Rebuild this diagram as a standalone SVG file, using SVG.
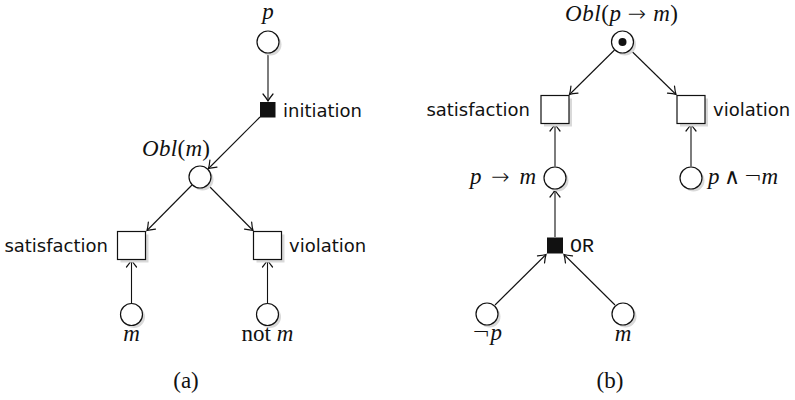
<svg xmlns="http://www.w3.org/2000/svg" width="795" height="400" viewBox="0 0 795 400">
<defs>
<marker id="arr" markerUnits="userSpaceOnUse" markerWidth="16" markerHeight="16" viewBox="-9 -8 11 16" refX="0" refY="0" orient="auto">
<path d="M-7,-5 Q-2.5,-1.3 0,0 Q-2.5,1.3 -7,5" fill="none" stroke="#111" stroke-width="1.2" stroke-linecap="round"/>
</marker>
</defs>
<style>
.place{fill:#fff;stroke:#111;stroke-width:1.2}
.trans{fill:#fff;stroke:#111;stroke-width:1.2}
.shadow{fill:#d9d9d9;stroke:none}
.black{fill:#111;stroke:none}
.edge{stroke:#111;stroke-width:1.1;fill:none;marker-end:url(#arr)}
.sans{font-family:"DejaVu Sans",sans-serif;font-size:18px;fill:#111}
.math{font-family:"Liberation Serif","DejaVu Serif",serif;font-size:23px;fill:#111}
.it{font-style:italic}
.op{font-family:"DejaVu Sans",sans-serif;font-size:22px;font-style:normal;font-weight:300}
.mono{font-family:"Liberation Mono","DejaVu Sans Mono",monospace;font-size:20px;fill:#111}
</style>

<g id="connectors">
<line class="edge" x1="268" y1="54" x2="268" y2="101"/>
<line class="edge" x1="260" y1="117" x2="208.5" y2="168.5"/>
<line class="edge" x1="192" y1="185" x2="147" y2="230.5"/>
<line class="edge" x1="208" y1="185" x2="253" y2="230.5"/>
<line class="edge" x1="131.5" y1="303" x2="131.5" y2="260"/>
<line class="edge" x1="267.5" y1="303" x2="267.5" y2="260"/>
<line class="edge" x1="614.5" y1="50" x2="569.5" y2="94.5"/>
<line class="edge" x1="630.5" y1="50" x2="676" y2="94.5"/>
<line class="edge" x1="555" y1="166.5" x2="555" y2="124"/>
<line class="edge" x1="691" y1="166.5" x2="691" y2="124"/>
<line class="edge" x1="555" y1="237" x2="555" y2="190"/>
<line class="edge" x1="495" y1="305" x2="546" y2="254.5"/>
<line class="edge" x1="615" y1="305" x2="564" y2="254.5"/>
</g>

<!-- Panel (a) -->
<g id="a_p">
<circle class="shadow" cx="270.5" cy="44.5" r="11"/>
<circle class="place" cx="268" cy="42" r="11"/>
<text class="math it" x="268" y="19" text-anchor="middle">p</text>
</g>
<g id="a_initiation">
<rect class="black" x="260" y="102" width="15.5" height="15.5"/>
<text class="sans" x="283" y="116.5">initiation</text>
</g>
<g id="a_obl">
<circle class="shadow" cx="202.5" cy="179.5" r="11"/>
<circle class="place" cx="200" cy="177" r="11"/>
<text class="math" x="142" y="156" textLength="68" lengthAdjust="spacing"><tspan class="it">Obl</tspan>(<tspan class="it">m</tspan>)</text>
</g>
<g id="a_satisfaction">
<rect class="shadow" x="120.5" y="234.5" width="28" height="28"/>
<rect class="trans" x="117.5" y="231.5" width="28" height="28"/>
<text class="sans" x="108" y="252" text-anchor="end">satisfaction</text>
</g>
<g id="a_violation">
<rect class="shadow" x="256.5" y="234.5" width="28" height="28"/>
<rect class="trans" x="253.5" y="231.5" width="28" height="28"/>
<text class="sans" x="289" y="252">violation</text>
</g>
<g id="a_m">
<circle class="shadow" cx="134" cy="317" r="11"/>
<circle class="place" cx="131.5" cy="314.5" r="11"/>
<text class="math it" x="131.5" y="341" text-anchor="middle">m</text>
</g>
<g id="a_notm">
<circle class="shadow" cx="270" cy="317" r="11"/>
<circle class="place" cx="267.5" cy="314.5" r="11"/>
<text class="math" x="267.5" y="341" text-anchor="middle">not <tspan class="it">m</tspan></text>
</g>
<text class="math" x="186" y="388" text-anchor="middle">(a)</text>

<!-- Panel (b) -->
<g id="b_obl">
<circle class="shadow" cx="625" cy="44.5" r="11"/>
<circle class="place" cx="622.5" cy="42" r="11"/>
<circle class="black" cx="622.5" cy="42" r="4"/>
<text class="math" x="565" y="21" textLength="113" lengthAdjust="spacing"><tspan class="it">Obl</tspan>(<tspan class="it">p</tspan> <tspan class="op">→</tspan> <tspan class="it">m</tspan>)</text>
</g>
<g id="b_satisfaction">
<rect class="shadow" x="544" y="98.5" width="28" height="28"/>
<rect class="trans" x="541" y="95.5" width="28" height="28"/>
<text class="sans" x="530" y="115.5" text-anchor="end">satisfaction</text>
</g>
<g id="b_violation">
<rect class="shadow" x="680" y="98.5" width="28" height="28"/>
<rect class="trans" x="677" y="95.5" width="28" height="28"/>
<text class="sans" x="713" y="115.5">violation</text>
</g>
<g id="b_pm">
<circle class="shadow" cx="557.5" cy="180.5" r="11"/>
<circle class="place" cx="555" cy="178" r="11"/>
<text class="math" x="470" y="184" textLength="66" lengthAdjust="spacing"><tspan class="it">p</tspan> <tspan class="op">→</tspan> <tspan class="it">m</tspan></text>
</g>
<g id="b_pnotm">
<circle class="shadow" cx="693.5" cy="180.5" r="11"/>
<circle class="place" cx="691" cy="178" r="11"/>
<text class="math" x="708" y="184" textLength="70" lengthAdjust="spacing"><tspan class="it">p</tspan> <tspan class="op">∧</tspan> <tspan class="op">¬</tspan><tspan class="it">m</tspan></text>
</g>
<g id="b_or">
<rect class="black" x="547" y="237.5" width="16" height="16"/>
<text class="mono" x="570" y="252">OR</text>
</g>
<g id="b_notp">
<circle class="shadow" cx="489.5" cy="316.5" r="11"/>
<circle class="place" cx="487" cy="314" r="11"/>
<text class="math" x="487" y="340" text-anchor="middle"><tspan class="op">¬</tspan><tspan class="it">p</tspan></text>
</g>
<g id="b_m">
<circle class="shadow" cx="625.5" cy="316.5" r="11"/>
<circle class="place" cx="623" cy="314" r="11"/>
<text class="math it" x="623" y="341" text-anchor="middle">m</text>
</g>
<text class="math" x="610" y="388" text-anchor="middle">(b)</text>
</svg>
